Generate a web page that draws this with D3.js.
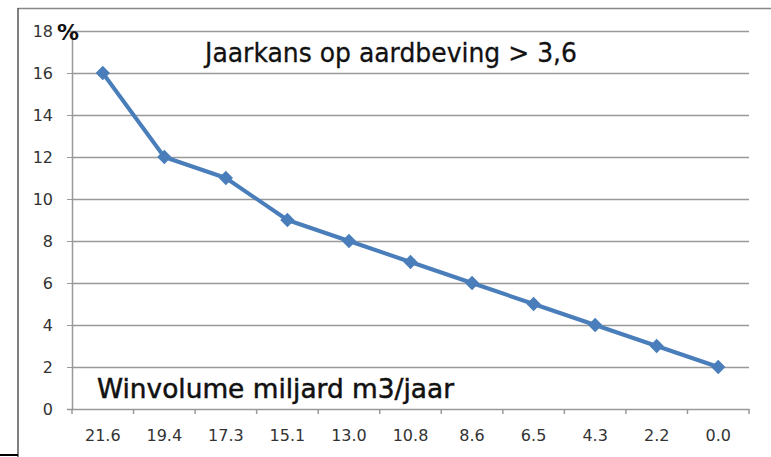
<!DOCTYPE html>
<html>
<head>
<meta charset="utf-8">
<script src="https://cdn.jsdelivr.net/npm/d3@7"></script>
<style>
  body { margin: 0; background: #fff; }
  svg { display: block; }
</style>
</head>
<body>
<div class="chart"></div>
<script>
var winvolume = ["21.6", "19.4", "17.3", "15.1", "13.0", "10.8", "8.6", "6.5", "4.3", "2.2", "0.0"];
var jaarkans = [16, 12, 11, 9, 8, 7, 6, 5, 4, 3, 2];
var yTicks = [0, 2, 4, 6, 8, 10, 12, 14, 16, 18];

var width = 771, height = 457;
var margin = {top: 31, right: 22, bottom: 48, left: 72};
var plotW = width - margin.left - margin.right,
    plotH = height - margin.top - margin.bottom;

var svg = d3.select(".chart").append("svg")
    .attr("width", width).attr("height", height);

// outer frame of the chart
svg.append("line").attr("x1", 18).attr("x2", width).attr("y1", 8.5).attr("y2", 8.5)
    .attr("stroke", "#888").attr("stroke-width", 1.5);
svg.append("line").attr("x1", 18).attr("x2", 18).attr("y1", 8).attr("y2", height)
    .attr("stroke", "#555").attr("stroke-width", 1.5);
svg.append("line").attr("x1", 0).attr("x2", 18).attr("y1", 455).attr("y2", 455)
    .attr("stroke", "#000").attr("stroke-width", 2);

var g = svg.append("g").attr("transform", "translate(" + margin.left + "," + margin.top + ")");

var x = d3.scaleBand().domain(winvolume).range([0, plotW]);
var y = d3.scaleLinear().domain([0, 18]).range([plotH, 0]);

// gridlines
g.append("g").selectAll("line")
    .data(yTicks.filter(function(d) { return d > 0; }))
    .enter().append("line")
    .attr("x1", 0).attr("x2", plotW)
    .attr("y1", function(d) { return Math.round(y(d)) + 0.5; })
    .attr("y2", function(d) { return Math.round(y(d)) + 0.5; })
    .attr("stroke", "#999").attr("stroke-width", 1.5);

// y axis
var yAxis = g.append("g")
    .call(d3.axisLeft(y).tickValues(yTicks).tickSize(5).tickPadding(14));
yAxis.select(".domain").attr("stroke", "#999").attr("stroke-width", 1.5);
yAxis.selectAll(".tick line").attr("stroke", "#999");
yAxis.selectAll("text")
    .attr("font-family", "'DejaVu Sans', sans-serif")
    .attr("font-size", 16)
    .attr("fill", "#333");

// x axis with ticks on the category boundaries
var xAxis = g.append("g").attr("transform", "translate(0," + plotH + ")")
    .call(d3.axisBottom(x).tickSize(0).tickPadding(21));
xAxis.select(".domain").attr("stroke", "#999").attr("stroke-width", 1.5);
xAxis.selectAll("text")
    .attr("font-family", "'DejaVu Sans', sans-serif")
    .attr("font-size", 16).attr("fill", "#333");
xAxis.selectAll(".bnd").data(d3.range(winvolume.length + 1))
    .enter().append("line")
    .attr("x1", function(i) { return i * x.step(); })
    .attr("x2", function(i) { return i * x.step(); })
    .attr("y1", 0).attr("y2", 5)
    .attr("stroke", "#999").attr("stroke-width", 1.5);

// series
var pts = winvolume.map(function(d, i) { return {k: d, v: jaarkans[i]}; });
var line = d3.line()
    .x(function(d) { return x(d.k) + x.bandwidth() / 2; })
    .y(function(d) { return y(d.v); });

g.append("path").datum(pts)
    .attr("d", line)
    .attr("fill", "none")
    .attr("stroke", "#4a7ebb")
    .attr("stroke-width", 4)
    .attr("stroke-linejoin", "round");

g.selectAll(".marker").data(pts).enter().append("path")
    .attr("class", "marker")
    .attr("transform", function(d) { return "translate(" + (x(d.k) + x.bandwidth() / 2) + "," + y(d.v) + ")"; })
    .attr("d", d3.symbol().type(d3.symbolDiamond2).size(130))
    .attr("fill", "#4a7ebb");

// texts
svg.append("text")
    .attr("x", 57).attr("y", 40)
    .attr("font-family", "'DejaVu Sans', sans-serif")
    .attr("font-size", 22).attr("font-weight", "bold").attr("fill", "#111")
    .text("%");

svg.append("text")
    .attr("x", 205).attr("y", 62)
    .attr("font-family", "'DejaVu Sans', sans-serif")
    .attr("font-size", 26).attr("fill", "#111")
    .attr("stroke", "#111").attr("stroke-width", 0.3)
    .attr("textLength", 372).attr("lengthAdjust", "spacingAndGlyphs")
    .text("Jaarkans op aardbeving > 3,6");

svg.append("text")
    .attr("x", 97).attr("y", 398)
    .attr("font-family", "'DejaVu Sans', sans-serif")
    .attr("font-size", 26).attr("fill", "#111")
    .attr("stroke", "#111").attr("stroke-width", 0.5)
    .attr("textLength", 357).attr("lengthAdjust", "spacingAndGlyphs")
    .text("Winvolume miljard m3/jaar");
</script>
</body>
</html>
